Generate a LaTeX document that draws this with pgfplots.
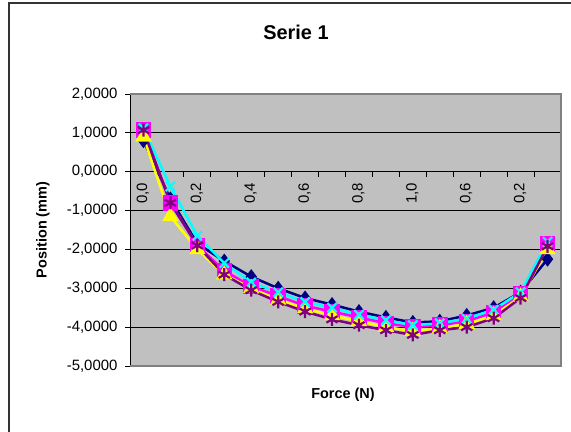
\documentclass[border=0pt]{standalone}
\usepackage{fontspec}
\setmainfont{Liberation Sans}
\usepackage{pgfplots}
\pgfplotsset{compat=1.18}
\usepackage{pgfplotstable}

\definecolor{plotbg}{HTML}{C0C0C0}
\definecolor{frame}{HTML}{808080}
\definecolor{sNavy}{HTML}{000080}
\definecolor{sMagenta}{HTML}{FF00FF}
\definecolor{sYellow}{HTML}{FFFF00}
\definecolor{sCyan}{HTML}{00FFFF}
\definecolor{sPurple}{HTML}{800080}

% x = category index, columns = the five series
\pgfplotstableread{
x  navy   magenta yellow cyan   purple
1   0.80   1.08    0.90   1.12   1.07
2  -0.70  -0.80   -1.15  -0.38  -0.80
3  -1.85  -1.90   -2.00  -1.65  -1.90
4  -2.30  -2.55   -2.65  -2.35  -2.65
5  -2.70  -2.95   -3.00  -2.85  -3.05
6  -3.00  -3.20   -3.30  -3.10  -3.35
7  -3.25  -3.45   -3.52  -3.35  -3.60
8  -3.42  -3.60   -3.70  -3.50  -3.80
9  -3.60  -3.75   -3.85  -3.68  -3.95
10 -3.75  -3.90   -4.00  -3.82  -4.08
11 -3.88  -4.00   -4.10  -3.95  -4.20
12 -3.85  -3.95   -4.03  -3.90  -4.08
13 -3.70  -3.85   -3.92  -3.78  -4.00
14 -3.50  -3.62   -3.70  -3.55  -3.77
15 -3.10  -3.15   -3.22  -3.10  -3.25
16 -2.25  -1.85   -2.00  -1.80  -1.92
}\serie

\begin{document}
\begin{tikzpicture}
\path[use as bounding box, fill=white] (0,0) rectangle (571bp,-432bp);
\draw[line width=1.5bp, black!80] (9bp,-432bp) -- (9bp,-3bp) -- (571bp,-3bp);

\begin{axis}[
  at={(130bp,-366bp)}, anchor=south west,
  scale only axis,
  width=431bp, height=272bp,
  xmin=0.5, xmax=16.5,
  ymin=-5, ymax=2,
  axis x line=middle,
  axis y line=left,
  axis line style={-, black, line width=0.8bp},
  axis background/.style={fill=plotbg},
  tick align=outside,
  major tick length=5bp,
  minor tick length=5bp,
  xtick={1,3,5,7,9,11,13,15},
  xticklabels={{0,0},{0,2},{0,4},{0,6},{0,8},{1,0},{0,6},{0,2}},
  major x tick style={draw=none},
  minor xtick={0.5,1.5,...,16.5},
  minor x tick style={black, line width=0.8bp},
  xticklabel style={xshift=-0.5bp, yshift=-6bp, rotate=90, anchor=east, font=\fontsize{15}{15}\selectfont, inner sep=0pt},
  ytick={-5,-4,...,2},
  y tick style={black, line width=0.8bp},
  yticklabel style={xshift=-4bp, font=\fontsize{15}{15}\selectfont},
  yticklabel={\pgfmathprintnumber{\tick}},
  /pgf/number format/.cd, fixed, fixed zerofill, precision=4, use comma, 1000 sep={}, assume math mode=true,
  /pgfplots/.cd,
  ymajorgrids=true,
  major grid style={black, line width=0.8bp},
  every axis plot/.append style={line width=2.5bp},
  clip=false,
]
\addplot[sNavy, mark=diamond*, mark size=5.5bp, mark options={solid, fill=sNavy}] table[x=x, y=navy] {\serie};
\addplot[sMagenta, mark=square*, mark size=6.5bp, mark options={solid, fill=sMagenta}] table[x=x, y=magenta] {\serie};
\addplot[sYellow, mark=triangle*, mark size=7bp, mark options={solid, fill=sYellow}] table[x=x, y=yellow] {\serie};
\addplot[sCyan, mark=x, mark size=6.5bp, mark options={solid, line width=2.2bp}] table[x=x, y=cyan] {\serie};
\addplot[sPurple, mark=asterisk, mark size=6.5bp, mark options={solid, line width=2.2bp}] table[x=x, y=purple] {\serie};
\end{axis}

\draw[frame, line width=2bp] (130bp,-94bp) -- (561bp,-94bp) -- (561bp,-366bp) -- (130bp,-366bp);

\node[font=\bfseries\fontsize{20}{20}\selectfont] at (296bp,-32bp) {Serie 1};
\node[font=\bfseries\fontsize{14.5}{14.5}\selectfont] at (343bp,-395bp) {Force (N)};
\node[font=\bfseries\fontsize{14.5}{14.5}\selectfont, rotate=90] at (43bp,-230bp) {Position (mm)};
\end{tikzpicture}
\end{document}
